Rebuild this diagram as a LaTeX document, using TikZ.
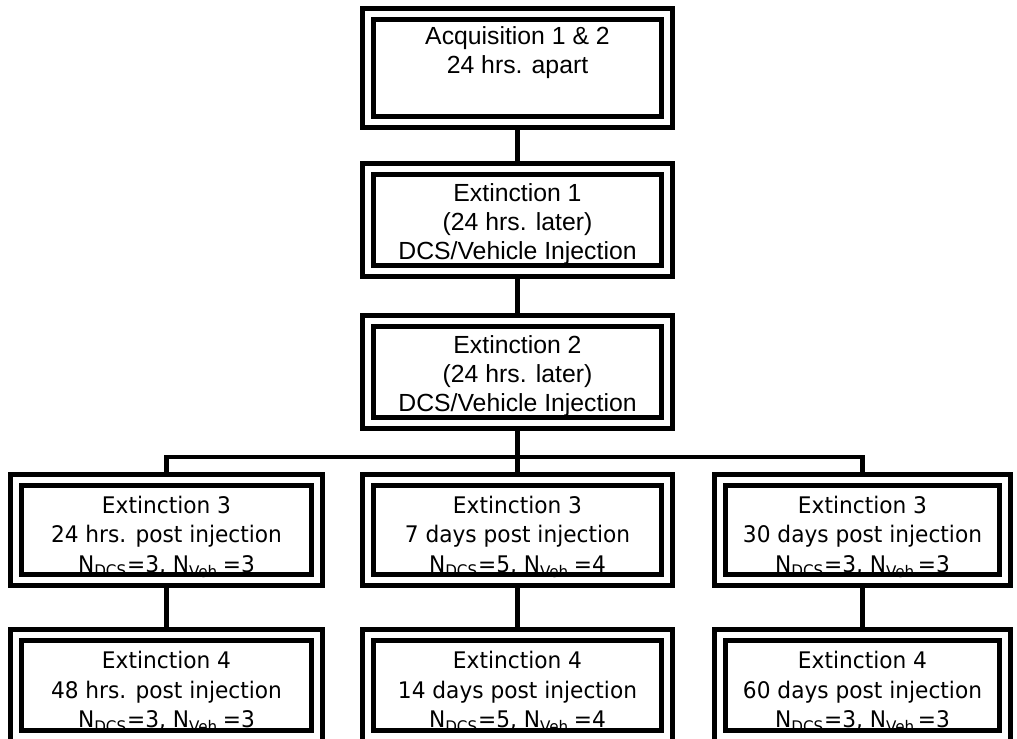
\documentclass[tikz,border=0pt]{standalone}
\usepackage{fontspec}
\setmainfont{Liberation Sans}
\newfontfamily\tahomalike[FakeStretch=0.95]{DejaVu Sans}
\usetikzlibrary{backgrounds}

\tikzset{
  stagebox/.style={draw=black,double=white,line width=0.1cm,double distance=0.11cm,
                   inner sep=0pt,outer sep=0pt,align=center},
  upperbox/.style={stagebox,minimum width=5.98cm,font=\fontsize{14.1}{16.5}\selectfont},
  lowerbox/.style={stagebox,font=\tahomalike\fontsize{13}{16.8}\selectfont},
  link/.style={line width=0.1cm},
}

\begin{document}
\begin{tikzpicture}[x=0.02cm,y=-0.02cm]
  \useasboundingbox (0,0) rectangle (1017,739);

  % ── ACQUISITION / EXTINCTION 1-2 ─────────────────────────
  \node[upperbox,minimum height=2.16cm] (acq) at (517.5,68)
    {Acquisition 1 \& 2\\24 hrs. apart\rule[-20pt]{0pt}{0pt}};
  \node[upperbox,minimum height=2.04cm] (ext1) at (517.5,220)
    {\rule{0pt}{14.5pt}Extinction 1\\(24 hrs. later)\\DCS/Vehicle Injection};
  \node[upperbox,minimum height=2.04cm] (ext2) at (517.5,372)
    {\rule{0pt}{14.5pt}Extinction 2\\(24 hrs. later)\\DCS/Vehicle Injection};

  % ── EXTINCTION 3-4, three delays ────────────────────────
  \foreach \col/\x/\w/\three/\four/\dcs/\veh/\nveh in {
      a/166.5/6.02/24 hrs./48 hrs./3/Veh./3,
      b/517.5/5.98/7 days/14 days/5/Veh./4,
      c/862.5/5.70/30 days/60 days/3/Veh\,/3}{
    \node[lowerbox,minimum width=\w cm,minimum height=2cm] (ext3\col) at (\x,530)
      {\rule{0pt}{17.5pt}Extinction 3\\\three{} post injection\\
       N\textsubscript{DCS}=\dcs, N\textsubscript{\veh}=\nveh};
    \node[lowerbox,minimum width=\w cm,minimum height=2.02cm] (ext4\col) at (\x,685.5)
      {\rule{0pt}{17.5pt}Extinction 4\\\four{} post injection\\
       N\textsubscript{DCS}=\dcs, N\textsubscript{\veh}=\nveh};
  }

  % connectors
  \coordinate (bus) at (0,457);
  \begin{scope}[on background layer]
    \draw[link] (acq.south) -- (ext1.north);
    \draw[link] (ext1.south) -- (ext2.north);
    \draw[link] (ext2.south) -- (ext3b.north);
    \draw[link] (ext3a.north) -- (ext3a.north |- bus) -- (ext3c.north |- bus) -- (ext3c.north);
    \foreach \col in {a,b,c}
      \draw[link] (ext3\col.south) -- (ext4\col.north);
  \end{scope}

\end{tikzpicture}
\end{document}
